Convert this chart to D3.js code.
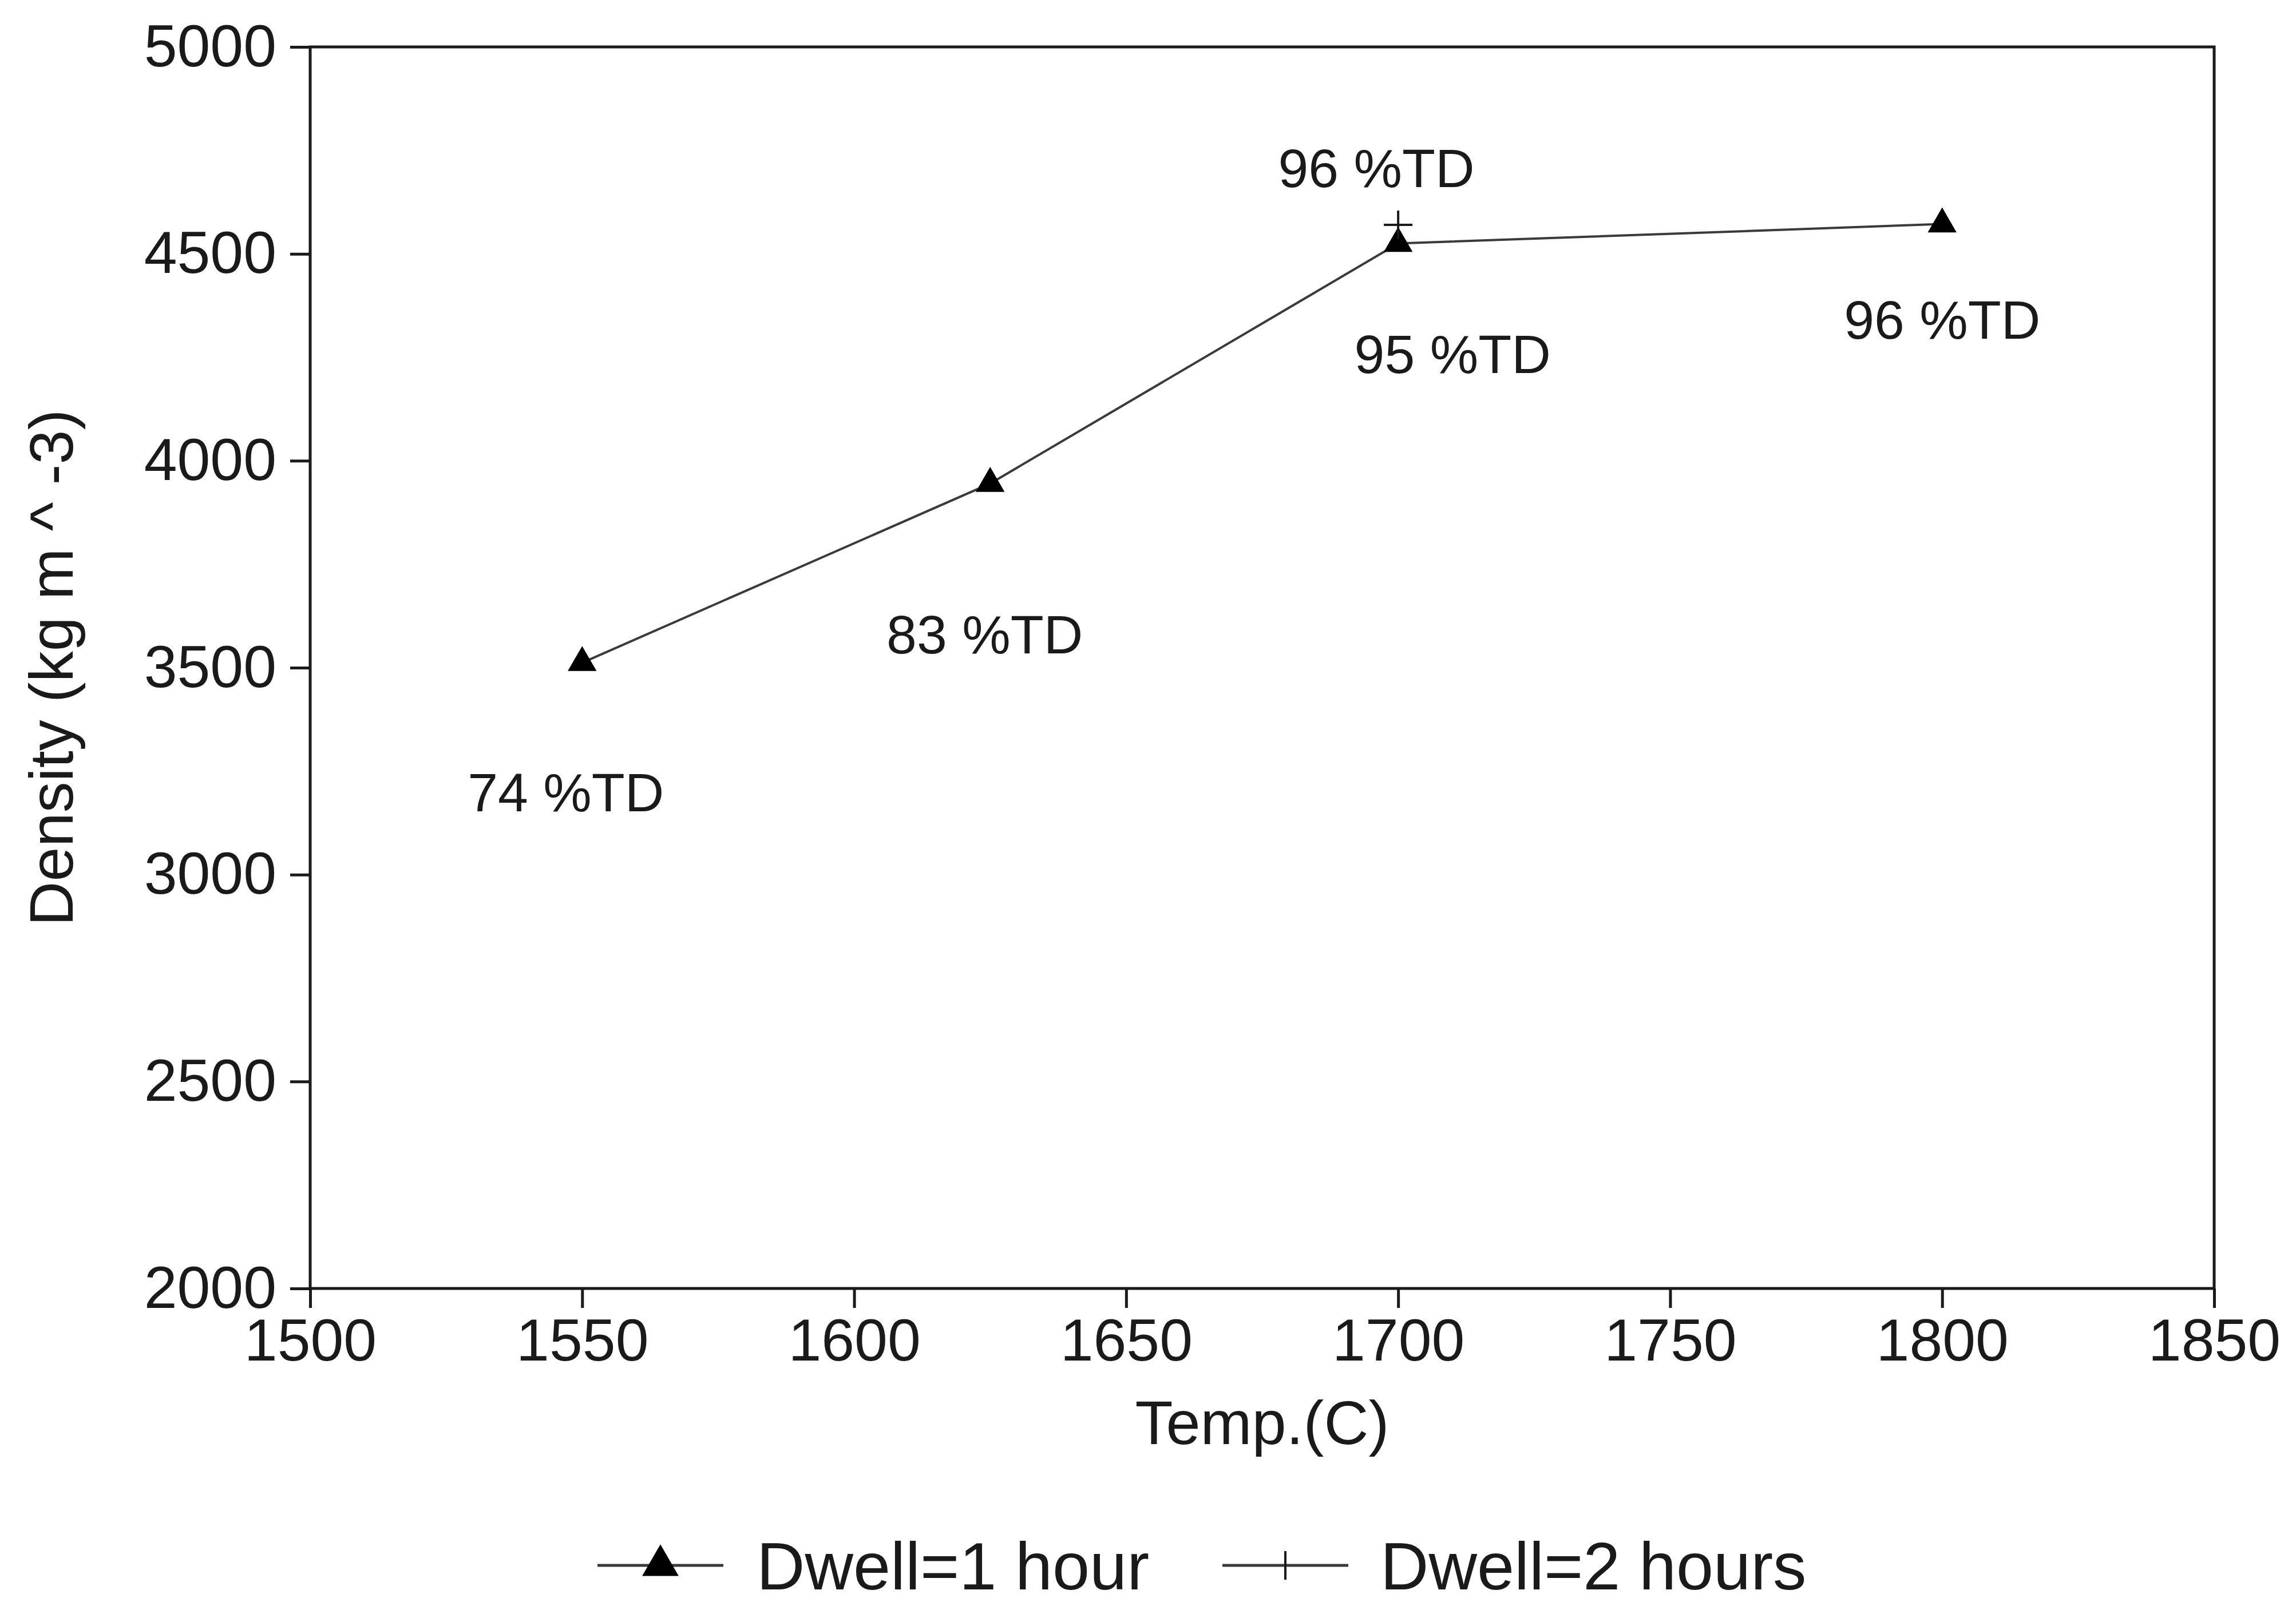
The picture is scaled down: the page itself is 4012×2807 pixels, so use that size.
<!DOCTYPE html>
<html>
<head>
<meta charset="utf-8">
<script src="https://cdn.jsdelivr.net/npm/d3@7"></script>
<style>
  html, body { margin: 0; padding: 0; background: #fff; }
  svg { display: block; font-family: "Liberation Sans", Arial, Helvetica, sans-serif; }
</style>
</head>
<body>
<svg id="chart"></svg>
<script>
const WIDTH = 4012;
const HEIGHT = 2807;
const MARGIN = { top: 82, right: 143, bottom: 555, left: 542 };

const INK = "#1a1a1a";
const LINE_COLOR = "#3a3a3a";
const TICK_FONT = 104;
const LABEL_FONT = 95;
const TITLE_FONT = 108;
const LEGEND_FONT = 117;
const TRIANGLE_SIZE = 1100;
const PLUS_HALF = 25;

// Dwell = 1 hour
const dwell1Temps = [1550, 1625, 1700, 1800];
const dwell1Density = [3512, 3945, 4525, 4572];

// Dwell = 2 hours
const dwell2Temps = [1700];
const dwell2Density = [4570];

const xTicks = [1500, 1550, 1600, 1650, 1700, 1750, 1800, 1850];
const yTicks = [2000, 2500, 3000, 3500, 4000, 4500, 5000];

// annotations, placed in data coordinates
const labelText = ["74 %TD", "83 %TD", "95 %TD", "96 %TD", "96 %TD"];
const labelTemps = [1547, 1624, 1710, 1696, 1800];
const labelDensity = [3200, 3582, 4259, 4708, 4342];

const seriesNames = ["Dwell=1 hour", "Dwell=2 hours"];

const svg = d3
  .select("#chart")
  .attr("width", WIDTH)
  .attr("height", HEIGHT)
  .attr("viewBox", `0 0 ${WIDTH} ${HEIGHT}`);

svg.append("rect").attr("width", WIDTH).attr("height", HEIGHT).attr("fill", "#fff");

const x = d3
  .scaleLinear()
  .domain([1500, 1850])
  .range([MARGIN.left, WIDTH - MARGIN.right]);

const y = d3
  .scaleLinear()
  .domain([2000, 5000])
  .range([HEIGHT - MARGIN.bottom, MARGIN.top]);

// frame
svg
  .append("rect")
  .attr("x", x(1500))
  .attr("y", y(5000))
  .attr("width", x(1850) - x(1500))
  .attr("height", y(2000) - y(5000))
  .attr("fill", "none")
  .attr("stroke", INK)
  .attr("stroke-width", 5);

const xAxis = svg
  .append("g")
  .attr("transform", `translate(0,${y(2000)})`)
  .call(
    d3.axisBottom(x).tickValues(xTicks).tickFormat(d3.format("d")).tickSize(34).tickSizeOuter(0).tickPadding(18)
  );

const yAxis = svg
  .append("g")
  .attr("transform", `translate(${x(1500)},0)`)
  .call(
    d3.axisLeft(y).tickValues(yTicks).tickFormat(d3.format("d")).tickSize(35).tickSizeOuter(0).tickPadding(24)
  );

[xAxis, yAxis].forEach((g) => {
  g.select(".domain").remove();
  g.selectAll(".tick line").attr("stroke", INK).attr("stroke-width", 5);
  g.selectAll(".tick text")
    .attr("fill", INK)
    .attr("font-size", TICK_FONT)
    .attr("font-family", "Liberation Sans, Arial, sans-serif");
});

// axis titles
svg
  .append("text")
  .attr("x", (x(1500) + x(1850)) / 2)
  .attr("y", y(2000) + 272)
  .attr("text-anchor", "middle")
  .attr("font-size", TITLE_FONT)
  .attr("fill", INK)
  .text("Temp.(C)");

svg
  .append("text")
  .attr("transform", `translate(${MARGIN.left - 415},${(y(2000) + y(5000)) / 2}) rotate(-90)`)
  .attr("text-anchor", "middle")
  .attr("font-size", TITLE_FONT)
  .attr("fill", INK)
  .text("Density (kg m ^ -3)");

// series
const dwell1 = dwell1Temps.map((t, i) => ({ t, d: dwell1Density[i] }));
const dwell2 = dwell2Temps.map((t, i) => ({ t, d: dwell2Density[i] }));

const line = d3
  .line()
  .x((p) => x(p.t))
  .y((p) => y(p.d));

svg
  .append("path")
  .datum(dwell1)
  .attr("fill", "none")
  .attr("stroke", LINE_COLOR)
  .attr("stroke-width", 4)
  .attr("d", line);

svg
  .append("path")
  .datum(dwell2)
  .attr("fill", "none")
  .attr("stroke", LINE_COLOR)
  .attr("stroke-width", 4)
  .attr("d", line);

const triangle = d3.symbol(d3.symbolTriangle, TRIANGLE_SIZE);

svg
  .append("g")
  .selectAll("path")
  .data(dwell1)
  .join("path")
  .attr("transform", (p) => `translate(${x(p.t)},${y(p.d)})`)
  .attr("d", triangle)
  .attr("fill", "#000");

function plusPath(half) {
  return `M${-half},0H${half}M0,${-half}V${half}`;
}

svg
  .append("g")
  .selectAll("path")
  .data(dwell2)
  .join("path")
  .attr("transform", (p) => `translate(${x(p.t)},${y(p.d)})`)
  .attr("d", plusPath(PLUS_HALF))
  .attr("stroke", INK)
  .attr("stroke-width", 4)
  .attr("fill", "none");

// %TD annotations
svg
  .append("g")
  .selectAll("text")
  .data(labelText)
  .join("text")
  .attr("x", (d, i) => x(labelTemps[i]))
  .attr("y", (d, i) => y(labelDensity[i]))
  .attr("dy", "0.36em")
  .attr("text-anchor", "middle")
  .attr("font-size", LABEL_FONT)
  .attr("fill", INK)
  .text((d) => d);

// legend
const LEGEND_Y = 2736;
const legendItems = [
  { name: seriesNames[0], x0: 1044, x1: 1264, text: 1322, marker: "triangle" },
  { name: seriesNames[1], x0: 2136, x1: 2356, text: 2412, marker: "plus" },
];

const legend = svg.append("g");
legendItems.forEach((item) => {
  const cx = (item.x0 + item.x1) / 2;
  legend
    .append("line")
    .attr("x1", item.x0)
    .attr("x2", item.x1)
    .attr("y1", LEGEND_Y)
    .attr("y2", LEGEND_Y)
    .attr("stroke", LINE_COLOR)
    .attr("stroke-width", 5);
  if (item.marker == "triangle") {
    legend
      .append("path")
      .attr("transform", `translate(${cx},${LEGEND_Y})`)
      .attr("d", d3.symbol(d3.symbolTriangle, TRIANGLE_SIZE * 1.6))
      .attr("fill", "#000");
  } else {
    legend
      .append("path")
      .attr("transform", `translate(${cx},${LEGEND_Y})`)
      .attr("d", `M0,-25V25`)
      .attr("stroke", INK)
      .attr("stroke-width", 4);
  }
  legend
    .append("text")
    .attr("x", item.text)
    .attr("y", LEGEND_Y)
    .attr("dy", "0.36em")
    .attr("font-size", LEGEND_FONT)
    .attr("fill", INK)
    .text(item.name);
});
</script>
</body>
</html>
